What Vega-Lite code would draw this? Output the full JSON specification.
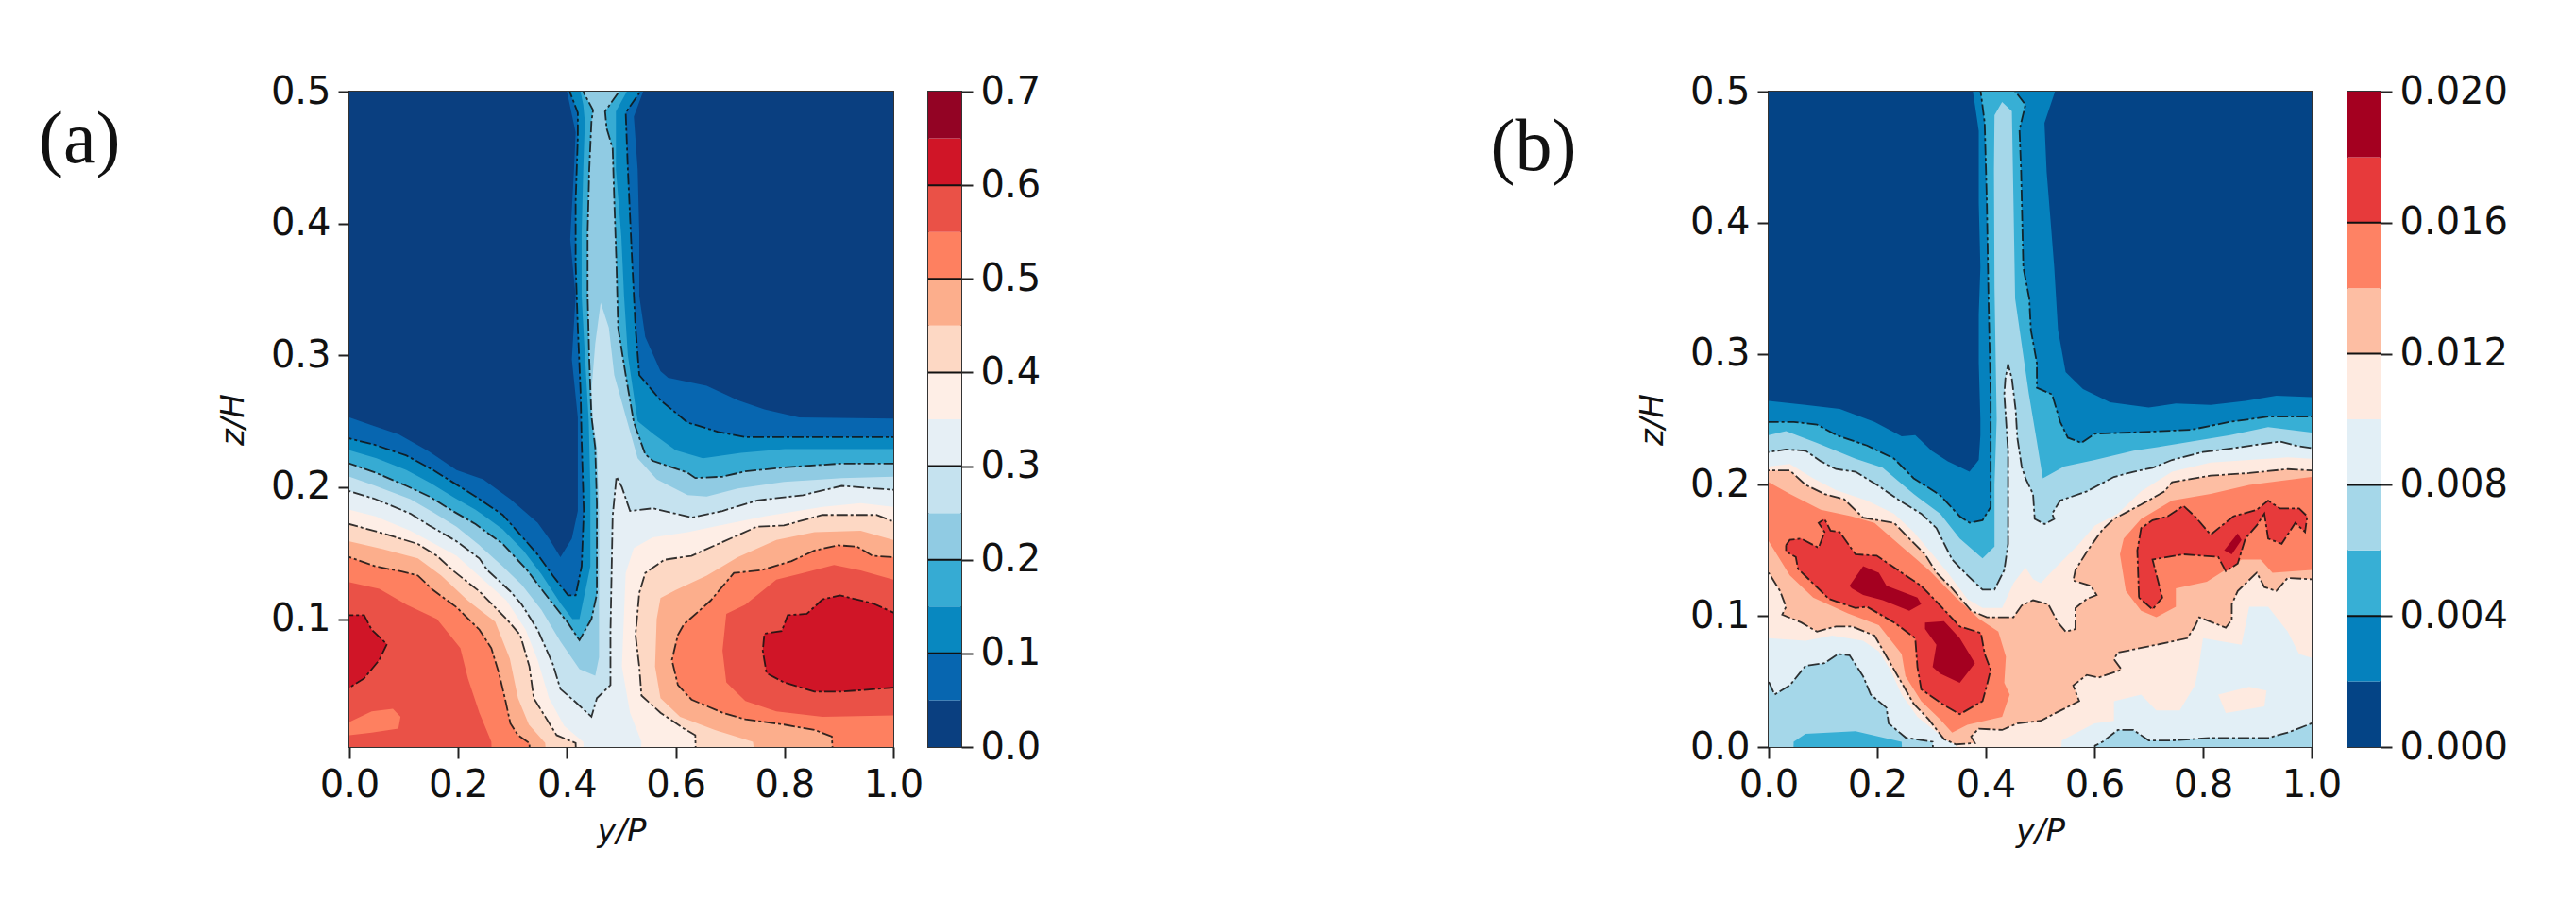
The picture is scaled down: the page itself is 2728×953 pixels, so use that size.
{"$schema":"https://vega.github.io/schema/vega-lite/v6.json","padding":{"left":40,"top":76,"right":0,"bottom":0},"bounds":"flush","spacing":1503,"config":{"view":{"stroke":"#333333","strokeWidth":2},"axis":{"labelFont":"DejaVu Sans","labelFontSize":40,"labelColor":"#111111","titleFont":"DejaVu Sans","titleFontSize":34,"titleFontStyle":"italic","titleFontWeight":"normal","titleColor":"#111111","tickColor":"#222222","tickSize":12,"tickWidth":2,"grid":false,"domain":false,"labelFlush":false,"labelOverlap":false}},
"datasets":{"S":[
{"s":"a0","v":0.025,"c":0},{"s":"a1","v":0.075,"c":0},{"s":"a2","v":0.125,"c":1},{"s":"a3","v":0.175,"c":0},{"s":"a4","v":0.225,"c":1},{"s":"a5","v":0.275,"c":0},{"s":"a6","v":0.325,"c":1},{"s":"a7l","v":0.375,"c":0},{"s":"a7r","v":0.375,"c":0},{"s":"a8l","v":0.425,"c":1},{"s":"a8r","v":0.425,"c":1},{"s":"a9l","v":0.475,"c":0},{"s":"a9r","v":0.475,"c":0},{"s":"a10l","v":0.525,"c":1},{"s":"a10r","v":0.525,"c":1},{"s":"a11l","v":0.575,"c":0},{"s":"a10p","v":0.525,"c":0},{"s":"a11r","v":0.575,"c":0},{"s":"a12l","v":0.625,"c":1},{"s":"a12r","v":0.625,"c":1},
{"s":"b0","v":0.001,"c":0},{"s":"b1","v":0.003,"c":0},{"s":"b2","v":0.005,"c":1},{"s":"b3","v":0.007,"c":0},{"s":"b4","v":0.009,"c":1},{"s":"b5","v":0.011,"c":0},{"s":"b9l","v":0.009,"c":0},{"s":"b9r","v":0.009,"c":0},{"s":"b11","v":0.011,"c":0},{"s":"b7l","v":0.007,"c":1},{"s":"b5l","v":0.005,"c":0},{"s":"b7r","v":0.007,"c":1},{"s":"b6","v":0.013,"c":1},{"s":"b15a","v":0.015,"c":0},{"s":"b15b","v":0.015,"c":0},{"s":"b17a","v":0.017,"c":1},{"s":"b17b","v":0.017,"c":1},{"s":"b19a","v":0.019,"c":0},{"s":"b19b","v":0.019,"c":0},{"s":"b19c","v":0.019,"c":0}],
"A":[
{"s":"a0","y":-0.05,"z":-0.05},{"s":"a0","y":1.05,"z":-0.05},{"s":"a0","y":1.05,"z":0.55},{"s":"a0","y":-0.05,"z":0.55},
{"s":"a1","y":-0.05,"z":-0.05},{"s":"a1","y":-0.05,"z":0.257},{"s":"a1","y":0,"z":0.253},{"s":"a1","y":0.041,"z":0.247},{"s":"a1","y":0.091,"z":0.24},{"s":"a1","y":0.147,"z":0.227},{"s":"a1","y":0.197,"z":0.213},{"s":"a1","y":0.246,"z":0.206},{"s":"a1","y":0.296,"z":0.191},{"s":"a1","y":0.346,"z":0.173},{"s":"a1","y":0.367,"z":0.161},{"s":"a1","y":0.388,"z":0.147},{"s":"a1","y":0.409,"z":0.161},{"s":"a1","y":0.42,"z":0.182},{"s":"a1","y":0.42,"z":0.253},{"s":"a1","y":0.409,"z":0.297},{"s":"a1","y":0.416,"z":0.345},{"s":"a1","y":0.406,"z":0.388},{"s":"a1","y":0.413,"z":0.441},{"s":"a1","y":0.416,"z":0.469},{"s":"a1","y":0.402,"z":0.496},{"s":"a1","y":0.39,"z":0.52},{"s":"a1","y":0.54,"z":0.52},{"s":"a1","y":0.54,"z":0.5},{"s":"a1","y":0.523,"z":0.481},{"s":"a1","y":0.53,"z":0.441},{"s":"a1","y":0.533,"z":0.393},{"s":"a1","y":0.533,"z":0.345},{"s":"a1","y":0.544,"z":0.314},{"s":"a1","y":0.572,"z":0.288},{"s":"a1","y":0.586,"z":0.283},{"s":"a1","y":0.657,"z":0.277},{"s":"a1","y":0.714,"z":0.266},{"s":"a1","y":0.763,"z":0.259},{"s":"a1","y":0.827,"z":0.253},{"s":"a1","y":1,"z":0.252},{"s":"a1","y":1.05,"z":0.252},{"s":"a1","y":1.05,"z":-0.05},
{"s":"a2","y":-0.05,"z":-0.05},{"s":"a2","y":-0.05,"z":0.237},{"s":"a2","y":0,"z":0.237},{"s":"a2","y":0.048,"z":0.232},{"s":"a2","y":0.105,"z":0.224},{"s":"a2","y":0.154,"z":0.213},{"s":"a2","y":0.197,"z":0.202},{"s":"a2","y":0.232,"z":0.193},{"s":"a2","y":0.282,"z":0.179},{"s":"a2","y":0.31,"z":0.166},{"s":"a2","y":0.346,"z":0.149},{"s":"a2","y":0.374,"z":0.133},{"s":"a2","y":0.402,"z":0.118},{"s":"a2","y":0.416,"z":0.118},{"s":"a2","y":0.427,"z":0.14},{"s":"a2","y":0.431,"z":0.182},{"s":"a2","y":0.427,"z":0.235},{"s":"a2","y":0.425,"z":0.273},{"s":"a2","y":0.42,"z":0.321},{"s":"a2","y":0.416,"z":0.369},{"s":"a2","y":0.416,"z":0.417},{"s":"a2","y":0.42,"z":0.465},{"s":"a2","y":0.42,"z":0.484},{"s":"a2","y":0.406,"z":0.499},{"s":"a2","y":0.4,"z":0.52},{"s":"a2","y":0.535,"z":0.52},{"s":"a2","y":0.533,"z":0.499},{"s":"a2","y":0.508,"z":0.484},{"s":"a2","y":0.512,"z":0.441},{"s":"a2","y":0.519,"z":0.378},{"s":"a2","y":0.526,"z":0.321},{"s":"a2","y":0.533,"z":0.285},{"s":"a2","y":0.572,"z":0.266},{"s":"a2","y":0.622,"z":0.249},{"s":"a2","y":0.678,"z":0.242},{"s":"a2","y":0.728,"z":0.238},{"s":"a2","y":0.87,"z":0.238},{"s":"a2","y":1,"z":0.238},{"s":"a2","y":1.05,"z":0.238},{"s":"a2","y":1.05,"z":-0.05},
{"s":"a3","y":-0.05,"z":-0.05},{"s":"a3","y":-0.05,"z":0.228},{"s":"a3","y":0,"z":0.228},{"s":"a3","y":0.05,"z":0.222},{"s":"a3","y":0.105,"z":0.213},{"s":"a3","y":0.15,"z":0.203},{"s":"a3","y":0.193,"z":0.192},{"s":"a3","y":0.232,"z":0.183},{"s":"a3","y":0.282,"z":0.168},{"s":"a3","y":0.32,"z":0.152},{"s":"a3","y":0.353,"z":0.134},{"s":"a3","y":0.388,"z":0.112},{"s":"a3","y":0.41,"z":0.1},{"s":"a3","y":0.423,"z":0.1},{"s":"a3","y":0.443,"z":0.14},{"s":"a3","y":0.443,"z":0.2},{"s":"a3","y":0.44,"z":0.25},{"s":"a3","y":0.433,"z":0.3},{"s":"a3","y":0.427,"z":0.345},{"s":"a3","y":0.427,"z":0.393},{"s":"a3","y":0.43,"z":0.441},{"s":"a3","y":0.433,"z":0.477},{"s":"a3","y":0.43,"z":0.49},{"s":"a3","y":0.415,"z":0.52},{"s":"a3","y":0.515,"z":0.52},{"s":"a3","y":0.51,"z":0.5},{"s":"a3","y":0.49,"z":0.485},{"s":"a3","y":0.49,"z":0.441},{"s":"a3","y":0.5,"z":0.39},{"s":"a3","y":0.505,"z":0.345},{"s":"a3","y":0.512,"z":0.3},{"s":"a3","y":0.53,"z":0.25},{"s":"a3","y":0.56,"z":0.24},{"s":"a3","y":0.6,"z":0.228},{"s":"a3","y":0.65,"z":0.222},{"s":"a3","y":0.72,"z":0.226},{"s":"a3","y":0.8,"z":0.229},{"s":"a3","y":1,"z":0.229},{"s":"a3","y":1.05,"z":0.229},{"s":"a3","y":1.05,"z":-0.05},
{"s":"a4","y":-0.05,"z":-0.05},{"s":"a4","y":-0.05,"z":0.218},{"s":"a4","y":0,"z":0.218},{"s":"a4","y":0.048,"z":0.211},{"s":"a4","y":0.105,"z":0.201},{"s":"a4","y":0.147,"z":0.193},{"s":"a4","y":0.19,"z":0.182},{"s":"a4","y":0.232,"z":0.172},{"s":"a4","y":0.282,"z":0.157},{"s":"a4","y":0.325,"z":0.138},{"s":"a4","y":0.36,"z":0.119},{"s":"a4","y":0.402,"z":0.097},{"s":"a4","y":0.423,"z":0.084},{"s":"a4","y":0.445,"z":0.1},{"s":"a4","y":0.455,"z":0.119},{"s":"a4","y":0.455,"z":0.188},{"s":"a4","y":0.452,"z":0.23},{"s":"a4","y":0.445,"z":0.254},{"s":"a4","y":0.441,"z":0.297},{"s":"a4","y":0.438,"z":0.345},{"s":"a4","y":0.438,"z":0.393},{"s":"a4","y":0.441,"z":0.441},{"s":"a4","y":0.445,"z":0.477},{"s":"a4","y":0.448,"z":0.486},{"s":"a4","y":0.431,"z":0.499},{"s":"a4","y":0.425,"z":0.52},{"s":"a4","y":0.5,"z":0.52},{"s":"a4","y":0.494,"z":0.499},{"s":"a4","y":0.47,"z":0.485},{"s":"a4","y":0.473,"z":0.472},{"s":"a4","y":0.484,"z":0.457},{"s":"a4","y":0.487,"z":0.417},{"s":"a4","y":0.491,"z":0.369},{"s":"a4","y":0.494,"z":0.321},{"s":"a4","y":0.508,"z":0.285},{"s":"a4","y":0.523,"z":0.249},{"s":"a4","y":0.544,"z":0.225},{"s":"a4","y":0.558,"z":0.22},{"s":"a4","y":0.622,"z":0.211},{"s":"a4","y":0.636,"z":0.207},{"s":"a4","y":0.686,"z":0.208},{"s":"a4","y":0.728,"z":0.212},{"s":"a4","y":0.799,"z":0.215},{"s":"a4","y":0.905,"z":0.218},{"s":"a4","y":1,"z":0.218},{"s":"a4","y":1.05,"z":0.218},{"s":"a4","y":1.05,"z":-0.05},
{"s":"a5","y":-0.05,"z":-0.05},{"s":"a5","y":-0.05,"z":0.208},{"s":"a5","y":0,"z":0.208},{"s":"a5","y":0.048,"z":0.201},{"s":"a5","y":0.112,"z":0.191},{"s":"a5","y":0.154,"z":0.181},{"s":"a5","y":0.197,"z":0.17},{"s":"a5","y":0.239,"z":0.156},{"s":"a5","y":0.282,"z":0.14},{"s":"a5","y":0.317,"z":0.126},{"s":"a5","y":0.353,"z":0.107},{"s":"a5","y":0.388,"z":0.083},{"s":"a5","y":0.423,"z":0.062},{"s":"a5","y":0.452,"z":0.057},{"s":"a5","y":0.459,"z":0.071},{"s":"a5","y":0.459,"z":0.111},{"s":"a5","y":0.459,"z":0.182},{"s":"a5","y":0.455,"z":0.23},{"s":"a5","y":0.448,"z":0.249},{"s":"a5","y":0.445,"z":0.273},{"s":"a5","y":0.452,"z":0.309},{"s":"a5","y":0.462,"z":0.34},{"s":"a5","y":0.477,"z":0.321},{"s":"a5","y":0.487,"z":0.285},{"s":"a5","y":0.508,"z":0.254},{"s":"a5","y":0.53,"z":0.222},{"s":"a5","y":0.565,"z":0.206},{"s":"a5","y":0.622,"z":0.194},{"s":"a5","y":0.657,"z":0.193},{"s":"a5","y":0.714,"z":0.199},{"s":"a5","y":0.799,"z":0.204},{"s":"a5","y":0.905,"z":0.207},{"s":"a5","y":1,"z":0.208},{"s":"a5","y":1.05,"z":0.208},{"s":"a5","y":1.05,"z":-0.05},
{"s":"a6","y":-0.05,"z":-0.05},{"s":"a6","y":-0.05,"z":0.197},{"s":"a6","y":0,"z":0.197},{"s":"a6","y":0.048,"z":0.191},{"s":"a6","y":0.112,"z":0.18},{"s":"a6","y":0.147,"z":0.171},{"s":"a6","y":0.197,"z":0.159},{"s":"a6","y":0.239,"z":0.146},{"s":"a6","y":0.254,"z":0.137},{"s":"a6","y":0.296,"z":0.121},{"s":"a6","y":0.317,"z":0.111},{"s":"a6","y":0.346,"z":0.092},{"s":"a6","y":0.374,"z":0.066},{"s":"a6","y":0.388,"z":0.047},{"s":"a6","y":0.416,"z":0.037},{"s":"a6","y":0.445,"z":0.026},{"s":"a6","y":0.455,"z":0.04},{"s":"a6","y":0.48,"z":0.05},{"s":"a6","y":0.48,"z":0.09},{"s":"a6","y":0.484,"z":0.178},{"s":"a6","y":0.491,"z":0.208},{"s":"a6","y":0.501,"z":0.2},{"s":"a6","y":0.516,"z":0.182},{"s":"a6","y":0.558,"z":0.184},{"s":"a6","y":0.63,"z":0.177},{"s":"a6","y":0.686,"z":0.182},{"s":"a6","y":0.75,"z":0.19},{"s":"a6","y":0.834,"z":0.194},{"s":"a6","y":0.905,"z":0.201},{"s":"a6","y":1,"z":0.198},{"s":"a6","y":1.05,"z":0.198},{"s":"a6","y":1.05,"z":-0.05},
{"s":"a7l","y":-0.05,"z":-0.05},{"s":"a7l","y":-0.05,"z":0.183},{"s":"a7l","y":0,"z":0.183},{"s":"a7l","y":0.048,"z":0.178},{"s":"a7l","y":0.112,"z":0.167},{"s":"a7l","y":0.161,"z":0.156},{"s":"a7l","y":0.197,"z":0.148},{"s":"a7l","y":0.246,"z":0.13},{"s":"a7l","y":0.289,"z":0.114},{"s":"a7l","y":0.324,"z":0.092},{"s":"a7l","y":0.346,"z":0.069},{"s":"a7l","y":0.367,"z":0.04},{"s":"a7l","y":0.395,"z":0.019},{"s":"a7l","y":0.43,"z":0.007},{"s":"a7l","y":0.44,"z":-0.05},
{"s":"a7r","y":0.53,"z":-0.05},{"s":"a7r","y":0.537,"z":0.007},{"s":"a7r","y":0.516,"z":0.029},{"s":"a7r","y":0.501,"z":0.064},{"s":"a7r","y":0.508,"z":0.135},{"s":"a7r","y":0.523,"z":0.154},{"s":"a7r","y":0.558,"z":0.162},{"s":"a7r","y":0.622,"z":0.166},{"s":"a7r","y":0.693,"z":0.172},{"s":"a7r","y":0.763,"z":0.178},{"s":"a7r","y":0.87,"z":0.185},{"s":"a7r","y":0.94,"z":0.188},{"s":"a7r","y":1,"z":0.185},{"s":"a7r","y":1.05,"z":0.185},{"s":"a7r","y":1.05,"z":-0.05},
{"s":"a8l","y":-0.05,"z":-0.05},{"s":"a8l","y":-0.05,"z":0.172},{"s":"a8l","y":0,"z":0.172},{"s":"a8l","y":0.062,"z":0.165},{"s":"a8l","y":0.126,"z":0.157},{"s":"a8l","y":0.161,"z":0.148},{"s":"a8l","y":0.19,"z":0.137},{"s":"a8l","y":0.239,"z":0.121},{"s":"a8l","y":0.289,"z":0.1},{"s":"a8l","y":0.314,"z":0.088},{"s":"a8l","y":0.331,"z":0.064},{"s":"a8l","y":0.339,"z":0.04},{"s":"a8l","y":0.36,"z":0.026},{"s":"a8l","y":0.381,"z":0.012},{"s":"a8l","y":0.416,"z":0.006},{"s":"a8l","y":0.42,"z":-0.05},
{"s":"a8r","y":0.64,"z":-0.05},{"s":"a8r","y":0.636,"z":0.012},{"s":"a8r","y":0.615,"z":0.017},{"s":"a8r","y":0.572,"z":0.029},{"s":"a8r","y":0.537,"z":0.042},{"s":"a8r","y":0.533,"z":0.064},{"s":"a8r","y":0.526,"z":0.088},{"s":"a8r","y":0.533,"z":0.12},{"s":"a8r","y":0.544,"z":0.135},{"s":"a8r","y":0.579,"z":0.145},{"s":"a8r","y":0.629,"z":0.148},{"s":"a8r","y":0.678,"z":0.157},{"s":"a8r","y":0.749,"z":0.17},{"s":"a8r","y":0.799,"z":0.171},{"s":"a8r","y":0.87,"z":0.179},{"s":"a8r","y":0.969,"z":0.179},{"s":"a8r","y":1,"z":0.174},{"s":"a8r","y":1.05,"z":0.174},{"s":"a8r","y":1.05,"z":-0.05},
{"s":"a9l","y":-0.05,"z":-0.05},{"s":"a9l","y":-0.05,"z":0.159},{"s":"a9l","y":0,"z":0.159},{"s":"a9l","y":0.062,"z":0.153},{"s":"a9l","y":0.126,"z":0.146},{"s":"a9l","y":0.169,"z":0.133},{"s":"a9l","y":0.218,"z":0.114},{"s":"a9l","y":0.268,"z":0.098},{"s":"a9l","y":0.295,"z":0.07},{"s":"a9l","y":0.31,"z":0.04},{"s":"a9l","y":0.33,"z":0.02},{"s":"a9l","y":0.36,"z":0.006},{"s":"a9l","y":0.37,"z":-0.05},
{"s":"a9r","y":0.76,"z":-0.05},{"s":"a9r","y":0.742,"z":0.007},{"s":"a9r","y":0.671,"z":0.016},{"s":"a9r","y":0.608,"z":0.026},{"s":"a9r","y":0.572,"z":0.04},{"s":"a9r","y":0.562,"z":0.064},{"s":"a9r","y":0.565,"z":0.1},{"s":"a9r","y":0.572,"z":0.116},{"s":"a9r","y":0.6,"z":0.122},{"s":"a9r","y":0.657,"z":0.133},{"s":"a9r","y":0.714,"z":0.147},{"s":"a9r","y":0.785,"z":0.16},{"s":"a9r","y":0.855,"z":0.166},{"s":"a9r","y":0.94,"z":0.167},{"s":"a9r","y":1,"z":0.16},{"s":"a9r","y":1.05,"z":0.16},{"s":"a9r","y":1.05,"z":-0.05},
{"s":"a10l","y":-0.05,"z":-0.05},{"s":"a10l","y":-0.05,"z":0.147},{"s":"a10l","y":0,"z":0.147},{"s":"a10l","y":0.048,"z":0.14},{"s":"a10l","y":0.098,"z":0.136},{"s":"a10l","y":0.126,"z":0.133},{"s":"a10l","y":0.154,"z":0.122},{"s":"a10l","y":0.197,"z":0.109},{"s":"a10l","y":0.239,"z":0.092},{"s":"a10l","y":0.261,"z":0.078},{"s":"a10l","y":0.275,"z":0.059},{"s":"a10l","y":0.286,"z":0.04},{"s":"a10l","y":0.296,"z":0.021},{"s":"a10l","y":0.31,"z":0.012},{"s":"a10l","y":0.331,"z":0.006},{"s":"a10l","y":0.335,"z":-0.05},
{"s":"a10r","y":0.895,"z":-0.05},{"s":"a10r","y":0.887,"z":0.011},{"s":"a10r","y":0.855,"z":0.016},{"s":"a10r","y":0.799,"z":0.02},{"s":"a10r","y":0.728,"z":0.024},{"s":"a10r","y":0.686,"z":0.029},{"s":"a10r","y":0.629,"z":0.039},{"s":"a10r","y":0.604,"z":0.05},{"s":"a10r","y":0.593,"z":0.069},{"s":"a10r","y":0.604,"z":0.088},{"s":"a10r","y":0.615,"z":0.096},{"s":"a10r","y":0.664,"z":0.114},{"s":"a10r","y":0.707,"z":0.135},{"s":"a10r","y":0.756,"z":0.137},{"s":"a10r","y":0.813,"z":0.144},{"s":"a10r","y":0.855,"z":0.152},{"s":"a10r","y":0.898,"z":0.156},{"s":"a10r","y":0.933,"z":0.155},{"s":"a10r","y":0.962,"z":0.148},{"s":"a10r","y":1,"z":0.147},{"s":"a10r","y":1.05,"z":0.147},{"s":"a10r","y":1.05,"z":-0.05},
{"s":"a11l","y":-0.05,"z":-0.05},{"s":"a11l","y":-0.05,"z":0.128},{"s":"a11l","y":0,"z":0.128},{"s":"a11l","y":0.055,"z":0.123},{"s":"a11l","y":0.105,"z":0.111},{"s":"a11l","y":0.161,"z":0.1},{"s":"a11l","y":0.204,"z":0.078},{"s":"a11l","y":0.218,"z":0.055},{"s":"a11l","y":0.239,"z":0.029},{"s":"a11l","y":0.261,"z":0.007},{"s":"a11l","y":0.265,"z":-0.05},
{"s":"a10p","y":-0.05,"z":0.022},{"s":"a10p","y":0,"z":0.022},{"s":"a10p","y":0.041,"z":0.03},{"s":"a10p","y":0.08,"z":0.032},{"s":"a10p","y":0.094,"z":0.026},{"s":"a10p","y":0.09,"z":0.017},{"s":"a10p","y":0.041,"z":0.014},{"s":"a10p","y":0,"z":0.012},{"s":"a10p","y":-0.05,"z":0.012},
{"s":"a11r","y":1.05,"z":0.027},{"s":"a11r","y":1,"z":0.027},{"s":"a11r","y":0.87,"z":0.026},{"s":"a11r","y":0.785,"z":0.03},{"s":"a11r","y":0.728,"z":0.038},{"s":"a11r","y":0.693,"z":0.052},{"s":"a11r","y":0.686,"z":0.076},{"s":"a11r","y":0.693,"z":0.104},{"s":"a11r","y":0.728,"z":0.111},{"s":"a11r","y":0.785,"z":0.13},{"s":"a11r","y":0.834,"z":0.135},{"s":"a11r","y":0.891,"z":0.141},{"s":"a11r","y":0.94,"z":0.137},{"s":"a11r","y":1,"z":0.13},{"s":"a11r","y":1.05,"z":0.13},
{"s":"a12l","y":-0.05,"z":0.103},{"s":"a12l","y":0,"z":0.103},{"s":"a12l","y":0.027,"z":0.103},{"s":"a12l","y":0.041,"z":0.092},{"s":"a12l","y":0.069,"z":0.081},{"s":"a12l","y":0.055,"z":0.069},{"s":"a12l","y":0.027,"z":0.055},{"s":"a12l","y":0,"z":0.048},{"s":"a12l","y":-0.05,"z":0.048},
{"s":"a12r","y":1.05,"z":0.105},{"s":"a12r","y":1,"z":0.105},{"s":"a12r","y":0.962,"z":0.112},{"s":"a12r","y":0.902,"z":0.118},{"s":"a12r","y":0.87,"z":0.115},{"s":"a12r","y":0.841,"z":0.104},{"s":"a12r","y":0.806,"z":0.103},{"s":"a12r","y":0.795,"z":0.091},{"s":"a12r","y":0.763,"z":0.089},{"s":"a12r","y":0.76,"z":0.076},{"s":"a12r","y":0.767,"z":0.059},{"s":"a12r","y":0.799,"z":0.052},{"s":"a12r","y":0.855,"z":0.045},{"s":"a12r","y":0.905,"z":0.045},{"s":"a12r","y":1,"z":0.048},{"s":"a12r","y":1.05,"z":0.048}],
"B":[
{"s":"b0","y":-0.05,"z":-0.05},{"s":"b0","y":1.05,"z":-0.05},{"s":"b0","y":1.05,"z":0.55},{"s":"b0","y":-0.05,"z":0.55},
{"s":"b1","y":-0.05,"z":-0.05},{"s":"b1","y":-0.05,"z":0.264},{"s":"b1","y":0,"z":0.264},{"s":"b1","y":0.068,"z":0.261},{"s":"b1","y":0.131,"z":0.258},{"s":"b1","y":0.195,"z":0.248},{"s":"b1","y":0.245,"z":0.237},{"s":"b1","y":0.27,"z":0.238},{"s":"b1","y":0.3,"z":0.226},{"s":"b1","y":0.33,"z":0.218},{"s":"b1","y":0.37,"z":0.21},{"s":"b1","y":0.387,"z":0.219},{"s":"b1","y":0.39,"z":0.238},{"s":"b1","y":0.39,"z":0.25},{"s":"b1","y":0.387,"z":0.293},{"s":"b1","y":0.387,"z":0.33},{"s":"b1","y":0.39,"z":0.366},{"s":"b1","y":0.387,"z":0.415},{"s":"b1","y":0.387,"z":0.47},{"s":"b1","y":0.377,"z":0.498},{"s":"b1","y":0.37,"z":0.52},{"s":"b1","y":0.535,"z":0.52},{"s":"b1","y":0.529,"z":0.502},{"s":"b1","y":0.508,"z":0.476},{"s":"b1","y":0.512,"z":0.439},{"s":"b1","y":0.519,"z":0.403},{"s":"b1","y":0.526,"z":0.366},{"s":"b1","y":0.533,"z":0.318},{"s":"b1","y":0.547,"z":0.286},{"s":"b1","y":0.579,"z":0.273},{"s":"b1","y":0.629,"z":0.263},{"s":"b1","y":0.7,"z":0.259},{"s":"b1","y":0.75,"z":0.262},{"s":"b1","y":0.814,"z":0.261},{"s":"b1","y":0.878,"z":0.264},{"s":"b1","y":0.935,"z":0.268},{"s":"b1","y":1,"z":0.267},{"s":"b1","y":1.05,"z":0.267},{"s":"b1","y":1.05,"z":-0.05},
{"s":"b2","y":-0.05,"z":-0.05},{"s":"b2","y":-0.05,"z":0.248},{"s":"b2","y":0,"z":0.248},{"s":"b2","y":0.046,"z":0.248},{"s":"b2","y":0.089,"z":0.246},{"s":"b2","y":0.124,"z":0.238},{"s":"b2","y":0.181,"z":0.23},{"s":"b2","y":0.231,"z":0.22},{"s":"b2","y":0.267,"z":0.205},{"s":"b2","y":0.316,"z":0.192},{"s":"b2","y":0.352,"z":0.176},{"s":"b2","y":0.37,"z":0.171},{"s":"b2","y":0.394,"z":0.173},{"s":"b2","y":0.409,"z":0.183},{"s":"b2","y":0.409,"z":0.238},{"s":"b2","y":0.409,"z":0.269},{"s":"b2","y":0.405,"z":0.342},{"s":"b2","y":0.402,"z":0.415},{"s":"b2","y":0.398,"z":0.476},{"s":"b2","y":0.39,"z":0.502},{"s":"b2","y":0.39,"z":0.52},{"s":"b2","y":0.46,"z":0.52},{"s":"b2","y":0.451,"z":0.502},{"s":"b2","y":0.473,"z":0.49},{"s":"b2","y":0.462,"z":0.471},{"s":"b2","y":0.465,"z":0.439},{"s":"b2","y":0.469,"z":0.366},{"s":"b2","y":0.48,"z":0.342},{"s":"b2","y":0.483,"z":0.318},{"s":"b2","y":0.494,"z":0.293},{"s":"b2","y":0.494,"z":0.274},{"s":"b2","y":0.522,"z":0.269},{"s":"b2","y":0.537,"z":0.248},{"s":"b2","y":0.551,"z":0.236},{"s":"b2","y":0.576,"z":0.232},{"s":"b2","y":0.601,"z":0.239},{"s":"b2","y":0.672,"z":0.24},{"s":"b2","y":0.778,"z":0.242},{"s":"b2","y":0.849,"z":0.248},{"s":"b2","y":0.92,"z":0.252},{"s":"b2","y":1,"z":0.252},{"s":"b2","y":1.05,"z":0.252},{"s":"b2","y":1.05,"z":-0.05},
{"s":"b3","y":-0.05,"z":-0.05},{"s":"b3","y":-0.05,"z":0.238},{"s":"b3","y":0,"z":0.238},{"s":"b3","y":0.032,"z":0.241},{"s":"b3","y":0.089,"z":0.232},{"s":"b3","y":0.16,"z":0.22},{"s":"b3","y":0.21,"z":0.213},{"s":"b3","y":0.267,"z":0.193},{"s":"b3","y":0.316,"z":0.178},{"s":"b3","y":0.352,"z":0.159},{"s":"b3","y":0.394,"z":0.144},{"s":"b3","y":0.416,"z":0.153},{"s":"b3","y":0.416,"z":0.2},{"s":"b3","y":0.42,"z":0.25},{"s":"b3","y":0.416,"z":0.35},{"s":"b3","y":0.415,"z":0.44},{"s":"b3","y":0.416,"z":0.482},{"s":"b3","y":0.43,"z":0.492},{"s":"b3","y":0.448,"z":0.485},{"s":"b3","y":0.451,"z":0.415},{"s":"b3","y":0.454,"z":0.342},{"s":"b3","y":0.479,"z":0.27},{"s":"b3","y":0.494,"z":0.233},{"s":"b3","y":0.505,"z":0.205},{"s":"b3","y":0.544,"z":0.214},{"s":"b3","y":0.601,"z":0.219},{"s":"b3","y":0.672,"z":0.226},{"s":"b3","y":0.75,"z":0.231},{"s":"b3","y":0.85,"z":0.238},{"s":"b3","y":0.92,"z":0.244},{"s":"b3","y":1,"z":0.24},{"s":"b3","y":1.05,"z":0.24},{"s":"b3","y":1.05,"z":-0.05},
{"s":"b4","y":-0.05,"z":-0.05},{"s":"b4","y":-0.05,"z":0.225},{"s":"b4","y":0,"z":0.225},{"s":"b4","y":0.032,"z":0.227},{"s":"b4","y":0.068,"z":0.226},{"s":"b4","y":0.096,"z":0.218},{"s":"b4","y":0.124,"z":0.212},{"s":"b4","y":0.16,"z":0.21},{"s":"b4","y":0.203,"z":0.199},{"s":"b4","y":0.245,"z":0.187},{"s":"b4","y":0.281,"z":0.178},{"s":"b4","y":0.309,"z":0.167},{"s":"b4","y":0.338,"z":0.143},{"s":"b4","y":0.366,"z":0.131},{"s":"b4","y":0.394,"z":0.12},{"s":"b4","y":0.416,"z":0.12},{"s":"b4","y":0.434,"z":0.135},{"s":"b4","y":0.441,"z":0.155},{"s":"b4","y":0.441,"z":0.226},{"s":"b4","y":0.434,"z":0.269},{"s":"b4","y":0.436,"z":0.281},{"s":"b4","y":0.441,"z":0.292},{"s":"b4","y":0.448,"z":0.281},{"s":"b4","y":0.455,"z":0.257},{"s":"b4","y":0.458,"z":0.236},{"s":"b4","y":0.466,"z":0.214},{"s":"b4","y":0.473,"z":0.205},{"s":"b4","y":0.487,"z":0.193},{"s":"b4","y":0.49,"z":0.174},{"s":"b4","y":0.508,"z":0.17},{"s":"b4","y":0.526,"z":0.174},{"s":"b4","y":0.522,"z":0.178},{"s":"b4","y":0.537,"z":0.188},{"s":"b4","y":0.586,"z":0.195},{"s":"b4","y":0.636,"z":0.206},{"s":"b4","y":0.672,"z":0.21},{"s":"b4","y":0.707,"z":0.213},{"s":"b4","y":0.743,"z":0.219},{"s":"b4","y":0.8,"z":0.225},{"s":"b4","y":0.856,"z":0.228},{"s":"b4","y":0.906,"z":0.231},{"s":"b4","y":0.942,"z":0.233},{"s":"b4","y":0.97,"z":0.23},{"s":"b4","y":1,"z":0.228},{"s":"b4","y":1.05,"z":0.228},{"s":"b4","y":1.05,"z":-0.05},
{"s":"b5","y":-0.05,"z":-0.05},{"s":"b5","y":-0.05,"z":0.214},{"s":"b5","y":0,"z":0.214},{"s":"b5","y":0.039,"z":0.216},{"s":"b5","y":0.082,"z":0.205},{"s":"b5","y":0.124,"z":0.196},{"s":"b5","y":0.181,"z":0.188},{"s":"b5","y":0.231,"z":0.178},{"s":"b5","y":0.267,"z":0.164},{"s":"b5","y":0.302,"z":0.147},{"s":"b5","y":0.33,"z":0.133},{"s":"b5","y":0.366,"z":0.113},{"s":"b5","y":0.394,"z":0.106},{"s":"b5","y":0.43,"z":0.106},{"s":"b5","y":0.451,"z":0.125},{"s":"b5","y":0.473,"z":0.137},{"s":"b5","y":0.487,"z":0.128},{"s":"b5","y":0.501,"z":0.125},{"s":"b5","y":0.529,"z":0.137},{"s":"b5","y":0.572,"z":0.155},{"s":"b5","y":0.601,"z":0.169},{"s":"b5","y":0.643,"z":0.178},{"s":"b5","y":0.686,"z":0.195},{"s":"b5","y":0.743,"z":0.21},{"s":"b5","y":0.814,"z":0.217},{"s":"b5","y":0.885,"z":0.219},{"s":"b5","y":0.956,"z":0.221},{"s":"b5","y":1,"z":0.22},{"s":"b5","y":1.05,"z":0.22},{"s":"b5","y":1.05,"z":-0.05},
{"s":"b9l","y":-0.05,"z":-0.05},{"s":"b9l","y":-0.05,"z":0.083},{"s":"b9l","y":0,"z":0.083},{"s":"b9l","y":0.068,"z":0.081},{"s":"b9l","y":0.117,"z":0.085},{"s":"b9l","y":0.174,"z":0.081},{"s":"b9l","y":0.203,"z":0.073},{"s":"b9l","y":0.224,"z":0.059},{"s":"b9l","y":0.245,"z":0.04},{"s":"b9l","y":0.274,"z":0.023},{"s":"b9l","y":0.316,"z":0.009},{"s":"b9l","y":0.345,"z":0.001},{"s":"b9l","y":0.35,"z":-0.05},
{"s":"b9r","y":0.53,"z":-0.05},{"s":"b9r","y":0.54,"z":0.005},{"s":"b9r","y":0.6,"z":0.018},{"s":"b9r","y":0.636,"z":0.02},{"s":"b9r","y":0.636,"z":0.035},{"s":"b9r","y":0.686,"z":0.04},{"s":"b9r","y":0.714,"z":0.028},{"s":"b9r","y":0.757,"z":0.028},{"s":"b9r","y":0.785,"z":0.047},{"s":"b9r","y":0.792,"z":0.061},{"s":"b9r","y":0.8,"z":0.083},{"s":"b9r","y":0.871,"z":0.078},{"s":"b9r","y":0.885,"z":0.107},{"s":"b9r","y":0.92,"z":0.107},{"s":"b9r","y":0.956,"z":0.088},{"s":"b9r","y":0.977,"z":0.071},{"s":"b9r","y":1,"z":0.068},{"s":"b9r","y":1.05,"z":0.068},{"s":"b9r","y":1.05,"z":-0.05},
{"s":"b11","y":0.828,"z":0.04},{"s":"b11","y":0.885,"z":0.046},{"s":"b11","y":0.917,"z":0.043},{"s":"b11","y":0.913,"z":0.031},{"s":"b11","y":0.842,"z":0.026},
{"s":"b7l","y":-0.05,"z":-0.05},{"s":"b7l","y":-0.05,"z":0.05},{"s":"b7l","y":0,"z":0.05},{"s":"b7l","y":0.011,"z":0.04},{"s":"b7l","y":0.039,"z":0.047},{"s":"b7l","y":0.068,"z":0.062},{"s":"b7l","y":0.103,"z":0.064},{"s":"b7l","y":0.128,"z":0.071},{"s":"b7l","y":0.149,"z":0.07},{"s":"b7l","y":0.174,"z":0.054},{"s":"b7l","y":0.188,"z":0.04},{"s":"b7l","y":0.217,"z":0.03},{"s":"b7l","y":0.221,"z":0.018},{"s":"b7l","y":0.253,"z":0.007},{"s":"b7l","y":0.302,"z":0.004},{"s":"b7l","y":0.309,"z":-0.05},
{"s":"b5l","y":0.044,"z":-0.05},{"s":"b5l","y":0.046,"z":0.004},{"s":"b5l","y":0.068,"z":0.01},{"s":"b5l","y":0.16,"z":0.012},{"s":"b5l","y":0.203,"z":0.008},{"s":"b5l","y":0.245,"z":0.004},{"s":"b5l","y":0.25,"z":-0.05},
{"s":"b7r","y":0.6,"z":-0.05},{"s":"b7r","y":0.601,"z":0.001},{"s":"b7r","y":0.615,"z":0.004},{"s":"b7r","y":0.643,"z":0.013},{"s":"b7r","y":0.672,"z":0.013},{"s":"b7r","y":0.7,"z":0.005},{"s":"b7r","y":0.743,"z":0.005},{"s":"b7r","y":0.814,"z":0.007},{"s":"b7r","y":0.92,"z":0.007},{"s":"b7r","y":0.956,"z":0.011},{"s":"b7r","y":1,"z":0.018},{"s":"b7r","y":1.05,"z":0.018},{"s":"b7r","y":1.05,"z":-0.05},
{"s":"b6","y":-0.05,"z":0.133},{"s":"b6","y":-0.05,"z":0.211},{"s":"b6","y":0,"z":0.211},{"s":"b6","y":0.039,"z":0.211},{"s":"b6","y":0.068,"z":0.2},{"s":"b6","y":0.103,"z":0.193},{"s":"b6","y":0.139,"z":0.189},{"s":"b6","y":0.174,"z":0.175},{"s":"b6","y":0.231,"z":0.171},{"s":"b6","y":0.252,"z":0.162},{"s":"b6","y":0.288,"z":0.147},{"s":"b6","y":0.309,"z":0.133},{"s":"b6","y":0.338,"z":0.121},{"s":"b6","y":0.373,"z":0.104},{"s":"b6","y":0.402,"z":0.099},{"s":"b6","y":0.451,"z":0.099},{"s":"b6","y":0.466,"z":0.108},{"s":"b6","y":0.487,"z":0.112},{"s":"b6","y":0.515,"z":0.109},{"s":"b6","y":0.533,"z":0.095},{"s":"b6","y":0.547,"z":0.088},{"s":"b6","y":0.565,"z":0.09},{"s":"b6","y":0.565,"z":0.106},{"s":"b6","y":0.586,"z":0.113},{"s":"b6","y":0.604,"z":0.116},{"s":"b6","y":0.593,"z":0.123},{"s":"b6","y":0.561,"z":0.127},{"s":"b6","y":0.565,"z":0.135},{"s":"b6","y":0.586,"z":0.149},{"s":"b6","y":0.615,"z":0.166},{"s":"b6","y":0.636,"z":0.174},{"s":"b6","y":0.686,"z":0.185},{"s":"b6","y":0.729,"z":0.195},{"s":"b6","y":0.743,"z":0.202},{"s":"b6","y":0.814,"z":0.207},{"s":"b6","y":0.885,"z":0.209},{"s":"b6","y":0.956,"z":0.212},{"s":"b6","y":1,"z":0.211},{"s":"b6","y":1.05,"z":0.211},{"s":"b6","y":1.05,"z":0.128},{"s":"b6","y":1,"z":0.128},{"s":"b6","y":0.956,"z":0.129},{"s":"b6","y":0.935,"z":0.119},{"s":"b6","y":0.913,"z":0.122},{"s":"b6","y":0.899,"z":0.133},{"s":"b6","y":0.864,"z":0.119},{"s":"b6","y":0.853,"z":0.109},{"s":"b6","y":0.853,"z":0.097},{"s":"b6","y":0.842,"z":0.091},{"s":"b6","y":0.793,"z":0.099},{"s":"b6","y":0.785,"z":0.092},{"s":"b6","y":0.771,"z":0.083},{"s":"b6","y":0.714,"z":0.078},{"s":"b6","y":0.643,"z":0.072},{"s":"b6","y":0.636,"z":0.067},{"s":"b6","y":0.65,"z":0.059},{"s":"b6","y":0.608,"z":0.053},{"s":"b6","y":0.586,"z":0.055},{"s":"b6","y":0.561,"z":0.047},{"s":"b6","y":0.572,"z":0.035},{"s":"b6","y":0.529,"z":0.026},{"s":"b6","y":0.501,"z":0.02},{"s":"b6","y":0.458,"z":0.018},{"s":"b6","y":0.43,"z":0.013},{"s":"b6","y":0.387,"z":0.014},{"s":"b6","y":0.373,"z":0.008},{"s":"b6","y":0.38,"z":0.003},{"s":"b6","y":0.345,"z":0.002},{"s":"b6","y":0.323,"z":0.006},{"s":"b6","y":0.295,"z":0.021},{"s":"b6","y":0.267,"z":0.033},{"s":"b6","y":0.245,"z":0.049},{"s":"b6","y":0.224,"z":0.064},{"s":"b6","y":0.195,"z":0.085},{"s":"b6","y":0.153,"z":0.092},{"s":"b6","y":0.124,"z":0.092},{"s":"b6","y":0.089,"z":0.088},{"s":"b6","y":0.06,"z":0.095},{"s":"b6","y":0.025,"z":0.101},{"s":"b6","y":0.032,"z":0.107},{"s":"b6","y":0.021,"z":0.119},{"s":"b6","y":0,"z":0.133},
{"s":"b15a","y":-0.05,"z":0.202},{"s":"b15a","y":0,"z":0.202},{"s":"b15a","y":0.039,"z":0.193},{"s":"b15a","y":0.096,"z":0.181},{"s":"b15a","y":0.153,"z":0.176},{"s":"b15a","y":0.195,"z":0.171},{"s":"b15a","y":0.245,"z":0.153},{"s":"b15a","y":0.295,"z":0.135},{"s":"b15a","y":0.345,"z":0.114},{"s":"b15a","y":0.387,"z":0.098},{"s":"b15a","y":0.423,"z":0.088},{"s":"b15a","y":0.437,"z":0.069},{"s":"b15a","y":0.434,"z":0.049},{"s":"b15a","y":0.444,"z":0.04},{"s":"b15a","y":0.43,"z":0.023},{"s":"b15a","y":0.366,"z":0.017},{"s":"b15a","y":0.338,"z":0.011},{"s":"b15a","y":0.316,"z":0.021},{"s":"b15a","y":0.281,"z":0.035},{"s":"b15a","y":0.252,"z":0.054},{"s":"b15a","y":0.245,"z":0.071},{"s":"b15a","y":0.203,"z":0.093},{"s":"b15a","y":0.146,"z":0.102},{"s":"b15a","y":0.082,"z":0.114},{"s":"b15a","y":0.039,"z":0.131},{"s":"b15a","y":0,"z":0.157},{"s":"b15a","y":-0.05,"z":0.157},
{"s":"b15b","y":1.05,"z":0.206},{"s":"b15b","y":1,"z":0.206},{"s":"b15b","y":0.942,"z":0.203},{"s":"b15b","y":0.885,"z":0.2},{"s":"b15b","y":0.814,"z":0.193},{"s":"b15b","y":0.743,"z":0.188},{"s":"b15b","y":0.686,"z":0.174},{"s":"b15b","y":0.654,"z":0.159},{"s":"b15b","y":0.647,"z":0.147},{"s":"b15b","y":0.658,"z":0.119},{"s":"b15b","y":0.686,"z":0.104},{"s":"b15b","y":0.714,"z":0.099},{"s":"b15b","y":0.75,"z":0.107},{"s":"b15b","y":0.75,"z":0.121},{"s":"b15b","y":0.807,"z":0.126},{"s":"b15b","y":0.871,"z":0.143},{"s":"b15b","y":0.906,"z":0.143},{"s":"b15b","y":0.928,"z":0.133},{"s":"b15b","y":1,"z":0.135},{"s":"b15b","y":1.05,"z":0.135},
{"s":"b17a","y":0.032,"z":0.154},{"s":"b17a","y":0.039,"z":0.158},{"s":"b17a","y":0.06,"z":0.159},{"s":"b17a","y":0.092,"z":0.152},{"s":"b17a","y":0.103,"z":0.164},{"s":"b17a","y":0.092,"z":0.171},{"s":"b17a","y":0.103,"z":0.174},{"s":"b17a","y":0.114,"z":0.165},{"s":"b17a","y":0.131,"z":0.164},{"s":"b17a","y":0.16,"z":0.147},{"s":"b17a","y":0.199,"z":0.146},{"s":"b17a","y":0.245,"z":0.133},{"s":"b17a","y":0.281,"z":0.123},{"s":"b17a","y":0.309,"z":0.111},{"s":"b17a","y":0.352,"z":0.092},{"s":"b17a","y":0.391,"z":0.087},{"s":"b17a","y":0.398,"z":0.071},{"s":"b17a","y":0.409,"z":0.059},{"s":"b17a","y":0.402,"z":0.047},{"s":"b17a","y":0.394,"z":0.035},{"s":"b17a","y":0.352,"z":0.025},{"s":"b17a","y":0.323,"z":0.032},{"s":"b17a","y":0.281,"z":0.044},{"s":"b17a","y":0.274,"z":0.061},{"s":"b17a","y":0.27,"z":0.083},{"s":"b17a","y":0.231,"z":0.095},{"s":"b17a","y":0.181,"z":0.107},{"s":"b17a","y":0.16,"z":0.106},{"s":"b17a","y":0.111,"z":0.113},{"s":"b17a","y":0.054,"z":0.136},{"s":"b17a","y":0.05,"z":0.145},{"s":"b17a","y":0.032,"z":0.149},{"s":"b17a","y":0.032,"z":0.154},
{"s":"b17b","y":0.682,"z":0.114},{"s":"b17b","y":0.679,"z":0.15},{"s":"b17b","y":0.686,"z":0.167},{"s":"b17b","y":0.707,"z":0.173},{"s":"b17b","y":0.735,"z":0.176},{"s":"b17b","y":0.764,"z":0.184},{"s":"b17b","y":0.785,"z":0.176},{"s":"b17b","y":0.814,"z":0.162},{"s":"b17b","y":0.856,"z":0.176},{"s":"b17b","y":0.899,"z":0.181},{"s":"b17b","y":0.92,"z":0.188},{"s":"b17b","y":0.942,"z":0.182},{"s":"b17b","y":0.977,"z":0.182},{"s":"b17b","y":0.992,"z":0.176},{"s":"b17b","y":0.988,"z":0.164},{"s":"b17b","y":0.97,"z":0.171},{"s":"b17b","y":0.945,"z":0.155},{"s":"b17b","y":0.92,"z":0.159},{"s":"b17b","y":0.913,"z":0.178},{"s":"b17b","y":0.899,"z":0.169},{"s":"b17b","y":0.878,"z":0.159},{"s":"b17b","y":0.864,"z":0.14},{"s":"b17b","y":0.842,"z":0.134},{"s":"b17b","y":0.828,"z":0.145},{"s":"b17b","y":0.764,"z":0.147},{"s":"b17b","y":0.707,"z":0.143},{"s":"b17b","y":0.725,"z":0.114},{"s":"b17b","y":0.707,"z":0.105},{"s":"b17b","y":0.682,"z":0.114},
{"s":"b19a","y":0.149,"z":0.123},{"s":"b19a","y":0.174,"z":0.138},{"s":"b19a","y":0.203,"z":0.133},{"s":"b19a","y":0.217,"z":0.123},{"s":"b19a","y":0.274,"z":0.114},{"s":"b19a","y":0.281,"z":0.109},{"s":"b19a","y":0.259,"z":0.104},{"s":"b19a","y":0.21,"z":0.112},{"s":"b19a","y":0.174,"z":0.116},{"s":"b19a","y":0.153,"z":0.121},
{"s":"b19b","y":0.288,"z":0.095},{"s":"b19b","y":0.323,"z":0.096},{"s":"b19b","y":0.352,"z":0.083},{"s":"b19b","y":0.38,"z":0.064},{"s":"b19b","y":0.352,"z":0.049},{"s":"b19b","y":0.316,"z":0.056},{"s":"b19b","y":0.302,"z":0.061},{"s":"b19b","y":0.309,"z":0.078},{"s":"b19b","y":0.288,"z":0.09},
{"s":"b19c","y":0.839,"z":0.15},{"s":"b19c","y":0.864,"z":0.163},{"s":"b19c","y":0.871,"z":0.158},{"s":"b19c","y":0.853,"z":0.147}]},
"hconcat":[
{"bounds":"flush","spacing":37,"hconcat":[
{"width":576,"height":694,"layer":[
{"data":{"name":"A"},"transform":[{"lookup":"s","from":{"data":{"name":"S"},"key":"s","fields":["v","c"]}},{"window":[{"op":"row_number","as":"i"}]}],"mark":{"type":"line","filled":true,"clip":true,"strokeWidth":0},"encoding":{"x":{"field":"y","type":"quantitative","scale":{"domain":[0,1],"nice":false},"axis":{"values":[0,0.2,0.4,0.6,0.8,1],"format":".1f","title":"y/P","titlePadding":12,"labelPadding":8}},"y":{"field":"z","type":"quantitative","scale":{"domain":[0.003,0.5],"nice":false,"zero":false},"axis":{"values":[0.1,0.2,0.3,0.4,0.5],"format":".1f","title":"z/H","titlePadding":22,"labelPadding":8}},"order":{"field":"i","type":"quantitative"},"detail":{"field":"s"},"color":{"field":"v","type":"quantitative","legend":null,"scale":{"type":"threshold","domain":[0.05,0.1,0.15,0.2,0.25,0.3,0.35,0.4,0.45,0.5,0.55,0.6,0.65],"range":["#0a3f80","#0766b0","#0888c0","#36abd3","#90cbe3","#c5e2ef","#e6eff5","#feeee6","#fdd8c4","#fcae8c","#fe8060","#ea5147","#d01527","#930324"]}}}},
{"data":{"name":"A"},"transform":[{"lookup":"s","from":{"data":{"name":"S"},"key":"s","fields":["v","c"]}},{"filter":"datum.c==1"},{"window":[{"op":"row_number","as":"i"}]}],"mark":{"type":"line","clip":true,"stroke":"#111111","strokeWidth":1.8,"strokeDash":[12,3,3,3],"opacity":0.85},"encoding":{"x":{"field":"y","type":"quantitative"},"y":{"field":"z","type":"quantitative"},"order":{"field":"i","type":"quantitative"},"detail":{"field":"s"}}},
{"data":{"values":[{"label":"(a)","y":-0.496,"z":0.463}]},"mark":{"type":"text","font":"Liberation Serif","fontSize":78,"color":"#111111"},"encoding":{"x":{"field":"y","type":"quantitative"},"y":{"field":"z","type":"quantitative"},"text":{"field":"label"}}}]},
{"width":35,"height":694,"data":{"values":[{"lo":0,"hi":0.05},{"lo":0.05,"hi":0.1},{"lo":0.1,"hi":0.15},{"lo":0.15,"hi":0.2},{"lo":0.2,"hi":0.25},{"lo":0.25,"hi":0.3},{"lo":0.3,"hi":0.35},{"lo":0.35,"hi":0.4},{"lo":0.4,"hi":0.45},{"lo":0.45,"hi":0.5},{"lo":0.5,"hi":0.55},{"lo":0.55,"hi":0.6},{"lo":0.6,"hi":0.65},{"lo":0.65,"hi":0.7}]},"layer":[
{"mark":{"type":"rect"},"encoding":{"y":{"field":"lo","type":"quantitative","scale":{"domain":[0,0.7],"nice":false},"axis":{"orient":"right","values":[0,0.1,0.2,0.3,0.4,0.5,0.6,0.7],"format":".1f","title":null,"labelPadding":8}},"y2":{"field":"hi"},"color":{"field":"lo","type":"ordinal","legend":null,"scale":{"range":["#0a3f80","#0766b0","#0888c0","#36abd3","#90cbe3","#c5e2ef","#e6eff5","#feeee6","#fdd8c4","#fcae8c","#fe8060","#ea5147","#d01527","#930324"]}}}},
{"transform":[{"filter":"datum.lo>0"}],"mark":{"type":"rule","color":"#111111","strokeWidth":2},"encoding":{"y":{"field":"lo","type":"quantitative"},"opacity":{"condition":{"test":"abs(datum.lo*10-round(datum.lo*10))<0.01","value":1},"value":0}}}]}]},
{"bounds":"flush","spacing":38,"hconcat":[
{"width":575,"height":694,"layer":[
{"data":{"name":"B"},"transform":[{"lookup":"s","from":{"data":{"name":"S"},"key":"s","fields":["v","c"]}},{"window":[{"op":"row_number","as":"i"}]}],"mark":{"type":"line","filled":true,"clip":true,"strokeWidth":0},"encoding":{"x":{"field":"y","type":"quantitative","scale":{"domain":[0,1],"nice":false},"axis":{"values":[0,0.2,0.4,0.6,0.8,1],"format":".1f","title":"y/P","titlePadding":12,"labelPadding":8}},"y":{"field":"z","type":"quantitative","scale":{"domain":[0,0.5],"nice":false},"axis":{"values":[0,0.1,0.2,0.3,0.4,0.5],"format":".1f","title":"z/H","titlePadding":22,"labelPadding":8}},"order":{"field":"i","type":"quantitative"},"detail":{"field":"s"},"color":{"field":"v","type":"quantitative","legend":null,"scale":{"type":"threshold","domain":[0.002,0.004,0.006,0.008,0.01,0.012,0.014,0.016,0.018],"range":["#044486","#0581bd","#37afd5","#a5d7e9","#e2eff6","#feeae0","#fdbea3","#fe8264","#e73a3b","#a40020"]}}}},
{"data":{"name":"B"},"transform":[{"lookup":"s","from":{"data":{"name":"S"},"key":"s","fields":["v","c"]}},{"filter":"datum.c==1"},{"window":[{"op":"row_number","as":"i"}]}],"mark":{"type":"line","clip":true,"stroke":"#111111","strokeWidth":1.8,"strokeDash":[12,3,3,3],"opacity":0.85},"encoding":{"x":{"field":"y","type":"quantitative"},"y":{"field":"z","type":"quantitative"},"order":{"field":"i","type":"quantitative"},"detail":{"field":"s"}}},
{"data":{"values":[{"label":"(b)","y":-0.433,"z":0.457}]},"mark":{"type":"text","font":"Liberation Serif","fontSize":78,"color":"#111111"},"encoding":{"x":{"field":"y","type":"quantitative"},"y":{"field":"z","type":"quantitative"},"text":{"field":"label"}}}]},
{"width":35,"height":694,"data":{"values":[{"lo":0,"hi":0.002},{"lo":0.002,"hi":0.004},{"lo":0.004,"hi":0.006},{"lo":0.006,"hi":0.008},{"lo":0.008,"hi":0.01},{"lo":0.01,"hi":0.012},{"lo":0.012,"hi":0.014},{"lo":0.014,"hi":0.016},{"lo":0.016,"hi":0.018},{"lo":0.018,"hi":0.02}]},"layer":[
{"mark":{"type":"rect"},"encoding":{"y":{"field":"lo","type":"quantitative","scale":{"domain":[0,0.02],"nice":false},"axis":{"orient":"right","values":[0,0.004,0.008,0.012,0.016,0.02],"format":".3f","title":null,"labelPadding":8}},"y2":{"field":"hi"},"color":{"field":"lo","type":"ordinal","legend":null,"scale":{"range":["#044486","#0581bd","#37afd5","#a5d7e9","#e2eff6","#feeae0","#fdbea3","#fe8264","#e73a3b","#a40020"]}}}},
{"transform":[{"filter":"datum.lo>0"}],"mark":{"type":"rule","color":"#111111","strokeWidth":2},"encoding":{"y":{"field":"lo","type":"quantitative"},"opacity":{"condition":{"test":"abs(datum.lo*250-round(datum.lo*250))<0.01","value":1},"value":0}}}]}]}
],"resolve":{"scale":{"color":"independent","x":"independent","y":"independent"}}}
